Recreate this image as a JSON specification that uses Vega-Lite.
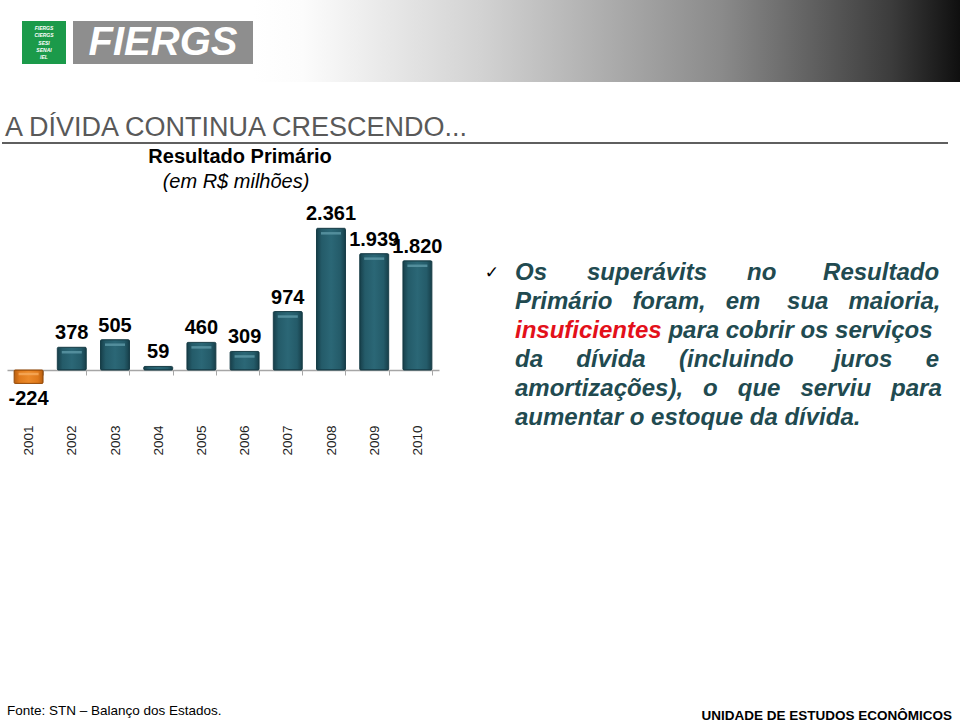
{
  "$schema": "https://vega.github.io/schema/vega-lite/v6.json",
  "padding": 0,
  "background": "white",
  "spacing": 0,
  "config": {
    "font": "Liberation Sans",
    "view": {"stroke": null},
    "concat": {"spacing": 0},
    "locale": {"number": {"decimal": ",", "thousands": ".", "grouping": [3], "currency": ["R$ ", ""], "minus": "-"}}
  },
  "datasets": {
    "primario": [
      {"ano": "2001", "valor": -224},
      {"ano": "2002", "valor": 378},
      {"ano": "2003", "valor": 505},
      {"ano": "2004", "valor": 59},
      {"ano": "2005", "valor": 460},
      {"ano": "2006", "valor": 309},
      {"ano": "2007", "valor": 974},
      {"ano": "2008", "valor": 2361},
      {"ano": "2009", "valor": 1939},
      {"ano": "2010", "valor": 1820}
    ],
    "texto": [
      {"linha": 1, "texto": "Os\u00a0\u00a0\u00a0\u00a0\u00a0\u00a0superávits\u00a0\u00a0\u00a0\u00a0\u00a0\u00a0no\u00a0\u00a0\u00a0\u00a0\u00a0\u00a0\u00a0Resultado"},
      {"linha": 2, "texto": "Primário\u00a0\u00a0\u00a0foram,\u00a0\u00a0\u00a0em\u00a0\u00a0\u00a0\u00a0sua\u00a0\u00a0\u00a0maioria,"},
      {"linha": 3, "destaque": "insuficientes", "continuacao": "para cobrir os serviços"},
      {"linha": 4, "texto": "da\u00a0\u00a0\u00a0\u00a0\u00a0dívida\u00a0\u00a0\u00a0\u00a0\u00a0(incluindo\u00a0\u00a0\u00a0\u00a0\u00a0\u00a0juros\u00a0\u00a0\u00a0\u00a0\u00a0e"},
      {"linha": 5, "texto": "amortizações),\u00a0\u00a0\u00a0o\u00a0\u00a0\u00a0que\u00a0\u00a0\u00a0serviu\u00a0\u00a0\u00a0para"},
      {"linha": 6, "texto": "aumentar o estoque da dívida."}
    ],
    "logo": [
      {"n": 1, "t": "FIERGS"},
      {"n": 2, "t": "CIERGS"},
      {"n": 3, "t": "SESI"},
      {"n": 4, "t": "SENAI"},
      {"n": 5, "t": "IEL"}
    ],
    "um": [{}]
  },
  "vconcat": [
    {
      "hconcat": [
        {"width": 20, "height": 82, "data": {"name": "um"}, "mark": {"type": "text", "text": "", "fontSize": 0}},
        {
          "vconcat": [
            {"width": 44, "height": 21, "data": {"name": "um"}, "mark": {"type": "text", "text": "", "fontSize": 0}},
            {"width": 44, "height": 43, "data": {"name": "logo"}, "view": {"fill": "#1b9a4a", "stroke": null},
             "mark": {"type": "text", "fontSize": 5, "color": "white", "fontWeight": "bold", "fontStyle": "italic", "baseline": "middle", "align": "center"},
             "encoding": {"y": {"field": "n", "type": "ordinal", "scale": {"padding": 1.9}, "axis": null}, "text": {"field": "t"}}},
            {"width": 44, "height": 18, "data": {"name": "um"}, "mark": {"type": "text", "text": "", "fontSize": 0}}
          ]
        },
        {"width": 7, "height": 82, "data": {"name": "um"}, "mark": {"type": "text", "text": "", "fontSize": 0}},
        {
          "vconcat": [
            {"width": 180, "height": 21, "data": {"name": "um"}, "mark": {"type": "text", "text": "", "fontSize": 0}},
            {"width": 180, "height": 43, "data": {"name": "um"}, "view": {"fill": "#8e8e8e", "stroke": null},
             "mark": {"type": "text", "text": "FIERGS", "fontSize": 40, "fontWeight": "bold", "fontStyle": "italic", "color": "white", "baseline": "middle", "align": "center"}},
            {"width": 180, "height": 18, "data": {"name": "um"}, "mark": {"type": "text", "text": "", "fontSize": 0}}
          ]
        },
        {
          "width": 709, "height": 82, "data": {"name": "um"},
          "mark": {"type": "rect", "fill": {"gradient": "linear", "x1": 0, "y1": 0, "x2": 1, "y2": 0, "stops": [
            {"offset": 0, "color": "#ffffff"},
            {"offset": 0.07, "color": "#fcfcfc"},
            {"offset": 0.323, "color": "#d2d2d2"},
            {"offset": 0.662, "color": "#8a8a8a"},
            {"offset": 0.9, "color": "#3c3c3c"},
            {"offset": 1, "color": "#0e0e0e"}
          ]}},
          "encoding": {"x": {"value": 0}, "x2": {"value": "width"}, "y": {"value": 0}, "y2": {"value": "height"}}
        }
      ]
    },
    {"width": 10, "height": 32, "data": {"name": "um"}, "mark": {"type": "text", "text": "", "fontSize": 0}},
    {
      "hconcat": [
        {"width": 3, "height": 28, "data": {"name": "um"}, "mark": {"type": "text", "text": "", "fontSize": 0}},
        {"width": 900, "height": 28, "data": {"name": "um"},
         "mark": {"type": "text", "text": "A DÍVIDA CONTINUA CRESCENDO...", "fontSize": 27, "color": "#595959", "align": "left", "baseline": "middle"},
         "encoding": {"x": {"value": 0}}}
      ]
    },
    {"width": 946, "height": 2, "data": {"name": "um"}, "view": {"fill": "#5f5f5f", "stroke": null}, "mark": {"type": "text", "text": "", "fontSize": 0}},
    {"width": 476, "height": 26, "data": {"name": "um"},
     "mark": {"type": "text", "text": "Resultado Primário", "fontSize": 20, "fontWeight": "bold", "color": "black", "baseline": "middle", "align": "center"}},
    {"width": 468, "height": 24, "data": {"name": "um"},
     "mark": {"type": "text", "text": "(em R$ milhões)", "fontSize": 20, "fontStyle": "italic", "color": "black", "baseline": "middle", "align": "center"}},
    {"width": 10, "height": 6, "data": {"name": "um"}, "mark": {"type": "text", "text": "", "fontSize": 0}},
    {
      "bounds": "flush",
      "hconcat": [
        {"width": 5, "height": 260, "data": {"name": "um"}, "mark": {"type": "text", "text": "", "fontSize": 0}},
        {
          "width": 432, "height": 260,
          "data": {"name": "primario"},
          "encoding": {
            "x": {"field": "ano", "type": "ordinal", "scale": {"paddingInner": 0.33, "paddingOuter": 0.165},
                  "axis": {"title": null, "offset": -90, "labelAngle": -90, "labelFontSize": 13.5, "labelColor": "#222222", "labelPadding": 50,
                           "tickSize": 5, "tickColor": "#a6a6a6", "domainColor": "#a6a6a6", "domainWidth": 1.5, "tickBand": "extent"}},
            "y": {"field": "valor", "type": "quantitative", "scale": {"domain": [-1500, 2833], "nice": false, "zero": false}, "axis": null}
          },
          "layer": [
            {"transform": [{"filter": "datum.valor >= 0"}],
             "mark": {"type": "bar", "stroke": "#163c46", "strokeWidth": 1, "cornerRadius": 1, "fill": {"gradient": "linear", "x1": 0, "y1": 0, "x2": 1, "y2": 0, "stops": [
               {"offset": 0, "color": "#173f4a"}, {"offset": 0.18, "color": "#245b69"}, {"offset": 0.5, "color": "#2b6776"}, {"offset": 0.82, "color": "#245b69"}, {"offset": 1, "color": "#173f4a"}]}}},
            {"transform": [{"filter": "datum.valor < 0"}],
             "mark": {"type": "bar", "stroke": "#9a4e0c", "strokeWidth": 1, "cornerRadius": 1, "fill": {"gradient": "linear", "x1": 0, "y1": 0, "x2": 1, "y2": 0, "stops": [
               {"offset": 0, "color": "#b85f10"}, {"offset": 0.18, "color": "#e07a1c"}, {"offset": 0.5, "color": "#ec8a2a"}, {"offset": 0.82, "color": "#e07a1c"}, {"offset": 1, "color": "#b85f10"}]}}},
            {"transform": [{"filter": "datum.valor >= 150"}],
             "mark": {"type": "tick", "color": "#5a95a3", "thickness": 2.5, "size": 20, "yOffset": 5, "opacity": 0.85}},
            {"transform": [{"filter": "datum.valor < 0"}],
             "mark": {"type": "tick", "color": "#f6a95a", "thickness": 2.5, "size": 20, "yOffset": 4, "opacity": 0.85},
             "encoding": {"y": {"datum": 0, "type": "quantitative"}}},
            {"transform": [{"filter": "datum.valor >= 0"}],
             "mark": {"type": "text", "baseline": "alphabetic", "dy": -8, "fontSize": 20, "fontWeight": "bold", "color": "black"},
             "encoding": {"text": {"field": "valor", "type": "quantitative", "format": ",d"}}},
            {"transform": [{"filter": "datum.valor < 0"}],
             "mark": {"type": "text", "baseline": "top", "dy": 6, "fontSize": 20, "fontWeight": "bold", "color": "black"},
             "encoding": {"text": {"field": "valor", "type": "quantitative", "format": ",d"}}}
          ]
        },
        {"width": 60, "height": 260, "data": {"values": [{"linha": 1, "marca": "✓"}]},
         "mark": {"type": "text", "align": "right", "baseline": "middle", "fontSize": 17, "font": "DejaVu Sans", "color": "black"},
         "encoding": {"x": {"value": "width"},
                      "y": {"field": "linha", "type": "quantitative", "scale": {"domain": [-1.5103, 7.4552], "reverse": true, "nice": false, "zero": false}, "axis": null},
                      "text": {"field": "marca"}}},
        {"width": 16, "height": 260, "data": {"name": "um"}, "mark": {"type": "text", "text": "", "fontSize": 0}},
        {"width": 427, "height": 260, "data": {"name": "texto"},
         "encoding": {"x": {"value": 0},
                      "y": {"field": "linha", "type": "quantitative", "scale": {"domain": [-1.5103, 7.4552], "reverse": true, "nice": false, "zero": false}, "axis": null}},
         "layer": [
           {"transform": [{"filter": "isValid(datum.texto)"}],
            "mark": {"type": "text", "align": "left", "baseline": "middle", "fontSize": 24, "fontWeight": "bold", "fontStyle": "italic", "color": "#214a50"},
            "encoding": {"text": {"field": "texto"}}},
           {"transform": [{"filter": "isValid(datum.destaque)"}],
            "mark": {"type": "text", "align": "left", "baseline": "middle", "fontSize": 24, "fontWeight": "bold", "fontStyle": "italic", "color": "#e3101a"},
            "encoding": {"text": {"field": "destaque"}}},
           {"transform": [{"filter": "isValid(datum.continuacao)"}],
            "mark": {"type": "text", "align": "left", "baseline": "middle", "dx": 153.4, "fontSize": 24, "fontWeight": "bold", "fontStyle": "italic", "color": "#214a50"},
            "encoding": {"text": {"field": "continuacao"}}}
         ]}
      ]
    },
    {"width": 10, "height": 239, "data": {"name": "um"}, "mark": {"type": "text", "text": "", "fontSize": 0}},
    {
      "hconcat": [
        {"width": 5, "height": 24, "data": {"name": "um"}, "mark": {"type": "text", "text": "", "fontSize": 0}},
        {"width": 470, "height": 24, "data": {"name": "um"},
         "mark": {"type": "text", "text": "Fonte: STN – Balanço dos Estados.", "fontSize": 13.5, "align": "left", "baseline": "middle", "color": "black"},
         "encoding": {"x": {"value": 0}}},
        {"width": 475, "height": 24, "data": {"name": "um"},
         "mark": {"type": "text", "text": "UNIDADE DE ESTUDOS ECONÔMICOS", "fontSize": 13.5, "fontWeight": "bold", "align": "right", "baseline": "middle", "dy": 5, "color": "black"},
         "encoding": {"x": {"value": "width"}}}
      ]
    }
  ]
}
